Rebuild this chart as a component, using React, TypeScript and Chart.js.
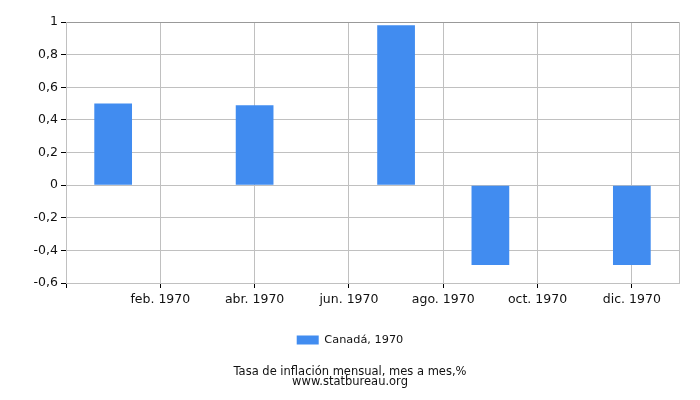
import { useEffect, useRef } from "react";
import { Chart, registerables, type ChartConfiguration } from "chart.js";

Chart.register(...registerables);

// month index 1..12 on a linear axis running 0..13
const MONTH_LABELS = [
  "ene. 1970",
  "feb. 1970",
  "mar. 1970",
  "abr. 1970",
  "may. 1970",
  "jun. 1970",
  "jul. 1970",
  "ago. 1970",
  "sep. 1970",
  "oct. 1970",
  "nov. 1970",
  "dic. 1970",
];
const CANADA_1970 = [0.5, 0, 0, 0.49, 0, 0, 0.98, 0, -0.49, 0, 0, -0.49];
const X_TICKS = [0, 2, 4, 6, 8, 10, 12, 13];
const SERIES_LABEL = "Canadá, 1970";
const TITLE_LINES = ["Tasa de inflación mensual, mes a mes,%", "www.statbureau.org"];

const TEXT = "#111";
const GRID = "#c0c0c0";
const BAR = "#418cf0";

export default function App() {
  const canvasRef = useRef<HTMLCanvasElement>(null);

  useEffect(() => {
    if (!canvasRef.current) return;
    Chart.defaults.font.family = "'DejaVu Sans', sans-serif";
    Chart.defaults.font.size = 12;
    Chart.defaults.color = TEXT;

    const cfg: ChartConfiguration<"bar"> = {
      type: "bar",
      data: {
        datasets: [
          {
            label: SERIES_LABEL,
            data: CANADA_1970.map((v, i) => ({ x: i + 1, y: v })),
            backgroundColor: BAR,
            borderWidth: 0,
            barPercentage: 0.8,
            categoryPercentage: 1,
          },
        ],
      },
      options: {
        animation: false,
        responsive: true,
        maintainAspectRatio: false,
        // symmetric side padding so legend and title centre on the canvas
        layout: { padding: { top: 22, right: 21, left: 21, bottom: 12.7 } },
        scales: {
          x: {
            type: "linear",
            min: 0,
            max: 13,
            offset: false,
            afterBuildTicks: (axis) => {
              axis.ticks = X_TICKS.map((v) => ({ value: v }));
            },
            afterFit: (axis) => {
              axis.height = 41.3;
            },
            grid: {
              offset: false,
              color: GRID,
              tickColor: (ctx) => (ctx.tick && ctx.tick.value === 13 ? "rgba(0,0,0,0)" : "#000"),
              tickLength: 5,
            },
            border: { color: GRID },
            ticks: {
              padding: 4,
              maxRotation: 0,
              autoSkip: false,
              color: TEXT,
              font: { size: 12.5 },
              callback: (v) => {
                const n = Number(v);
                return n >= 1 && n <= 12 ? MONTH_LABELS[n - 1] : "";
              },
            },
          },
          y: {
            min: -0.6,
            max: 1,
            afterFit: (axis) => {
              axis.width = 45;
            },
            grid: {
              color: (ctx) => (ctx.tick && ctx.tick.value === 1 ? "#999" : GRID),
              tickColor: "#000",
              tickLength: 5,
            },
            border: { color: GRID },
            ticks: {
              stepSize: 0.2,
              padding: 3,
              color: TEXT,
              font: { size: 12.5 },
              callback: (v) => Number(Number(v).toFixed(1)).toString().replace(".", ","),
            },
          },
        },
        plugins: {
          legend: {
            position: "bottom",
            labels: {
              boxWidth: 22,
              boxHeight: 9,
              padding: 10,
              color: TEXT,
              font: { size: 11.3 },
            },
          },
          title: {
            display: true,
            position: "bottom",
            text: TITLE_LINES,
            color: TEXT,
            font: { size: 11.5, weight: "normal", lineHeight: 0.9 },
            padding: { top: 11, bottom: 0 },
          },
          tooltip: { enabled: false },
        },
      },
    };

    const chart = new Chart(canvasRef.current, cfg);
    return () => {
      chart.destroy();
    };
  }, []);

  return (
    <div
      style={{
        position: "fixed",
        left: 0,
        top: 0,
        width: 700,
        height: 400,
        background: "#fff",
      }}
    >
      <canvas ref={canvasRef} />
    </div>
  );
}
